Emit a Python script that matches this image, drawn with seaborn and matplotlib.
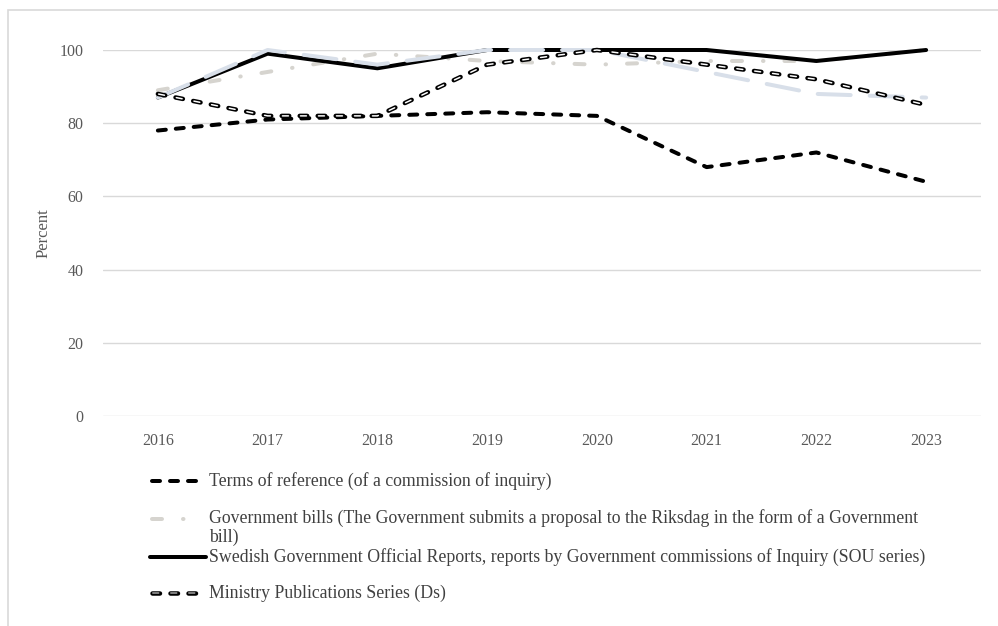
import matplotlib
matplotlib.use("Agg")
import matplotlib.pyplot as plt
from matplotlib.lines import Line2D
from matplotlib.patches import Rectangle
import seaborn as sns
import pandas as pd

years = ["2016", "2017", "2018", "2019", "2020", "2021", "2022", "2023"]
terms_of_reference = [78, 81, 82, 83, 82, 68, 72, 64]
government_bills = [89, 94, 99, 97, 96, 97, 97, 100]
sou_reports = [87, 99, 95, 100, 100, 100, 97, 100]
unlabelled_series = [87, 100, 96, 100, 100, 94, 88, 87]
ds_series = [88, 82, 82, 96, 100, 96, 92, 85]
y_ticks = [0, 20, 40, 60, 80, 100]

labels = [
    "Terms of reference (of a commission of inquiry)",
    "Government bills (The Government submits a proposal to the Riksdag in the form of a Government\nbill)",
    "Swedish Government Official Reports, reports by Government commissions of Inquiry (SOU series)",
    "Ministry Publications Series (Ds)",
]

sns.set_theme(style="white")
plt.rcParams["font.family"] = ["Liberation Serif", "DejaVu Serif"]
plt.rcParams["lines.scale_dashes"] = False

W, H = 998, 626
fig = plt.figure(figsize=(W / 100, H / 100), dpi=100)
PX = 0.72  # points per pixel

# outer frame (cropped at right/bottom)
fig.add_artist(Rectangle((8 / W, -0.1), 1.2, 1 - 10 / H + 0.1, transform=fig.transFigure,
                         fill=False, edgecolor="#d9d9d9", linewidth=1.2))

ax = fig.add_axes([103 / W, 1 - 416 / H, (981 - 103) / W, (416 - 50) / H])

x = list(range(len(years)))
df = pd.DataFrame({"x": x, "terms": terms_of_reference, "bills": government_bills,
                   "sou": sou_reports, "other": unlabelled_series, "ds": ds_series})

LW = 4 * PX
TERMS_LS = (0, (8 * PX, 10 * PX))
BILLS_LS = (0, (10 * PX, 21 * PX, 0.5 * PX, 21 * PX))
styles = {
    "terms": dict(color="black", lw=LW, ls=TERMS_LS),
    "bills": dict(color="#d6d4cf", lw=LW, ls=BILLS_LS),
    "sou": dict(color="black", lw=LW, ls="-"),
    "other": dict(color="#d8dfe9", lw=LW, ls=(0, (33 * PX, 19 * PX))),
}

def draw(col, st, z):
    sns.lineplot(data=df, x="x", y=col, ax=ax, color=st["color"], linewidth=st["lw"],
                 linestyle=st["ls"], zorder=z)
    ln = ax.lines[-1]
    ln.set_dash_capstyle("round")
    ln.set_solid_capstyle("round")
    ln.set_clip_on(False)

draw("terms", styles["terms"], 3)
draw("bills", styles["bills"], 4)
draw("sou", styles["sou"], 5)
draw("other", styles["other"], 6)

# Ds: double line (black outline, white inner)
ds_outer = (0, (7.5 * PX, 10.5 * PX))
ds_inner = (17.25 * PX, (6 * PX, 12 * PX))
sns.lineplot(data=df, x="x", y="ds", ax=ax, color="black", linewidth=4.5 * PX,
             linestyle=ds_outer, zorder=7)
ax.lines[-1].set_dash_capstyle("round"); ax.lines[-1].set_clip_on(False)
sns.lineplot(data=df, x="x", y="ds", ax=ax, color="white", linewidth=1.5 * PX,
             linestyle=ds_inner, zorder=8)
ax.lines[-1].set_dash_capstyle("round"); ax.lines[-1].set_clip_on(False)

ax.set_xlim(-0.5, len(years) - 0.5)
ax.set_ylim(0, 100)
ax.set_xticks(x)
ax.set_xticklabels(years)
ax.set_yticks(y_ticks)
ax.set_yticklabels([str(v) for v in y_ticks])
ax.tick_params(axis="both", length=0, labelsize=11.5, labelcolor="#595959")
ax.tick_params(axis="y", pad=14)
ax.tick_params(axis="x", pad=12)
for s in ax.spines.values():
    s.set_visible(False)
ax.grid(axis="y", color="#d9d9d9", linewidth=1.0)
ax.set_axisbelow(True)
ax.set_xlabel("")
ax.set_ylabel("Percent", fontsize=12, color="#595959")
ax.yaxis.set_label_coords((52 - 103) / (981 - 103), 0.5)

# legend (manual, positioned as in reference)
LEG_FS = 12.8
entries = [
    ("terms", 481),
    ("bills", 519),
    ("sou", 557),
    ("ds", 593),
]
for (kind, ypx), lab in zip(entries, labels):
    yf = 1 - ypx / H
    if kind == "terms":
        fig.add_artist(Line2D([152 / W, 199 / W], [yf, yf], transform=fig.transFigure,
                              color="black", linewidth=LW, linestyle=TERMS_LS,
                              dash_capstyle="round"))
    elif kind == "bills":
        fig.add_artist(Line2D([152 / W, 190 / W], [yf, yf], transform=fig.transFigure,
                              color="#d6d4cf", linewidth=LW, linestyle=BILLS_LS,
                              dash_capstyle="round"))
    elif kind == "sou":
        fig.add_artist(Line2D([150 / W, 206 / W], [yf, yf], transform=fig.transFigure,
                              color="black", linewidth=LW, solid_capstyle="round"))
    else:
        fig.add_artist(Line2D([152 / W, 199 / W], [yf, yf], transform=fig.transFigure,
                              color="black", linewidth=4.5 * PX, linestyle=ds_outer,
                              dash_capstyle="round"))
        fig.add_artist(Line2D([152 / W, 199 / W], [yf, yf], transform=fig.transFigure,
                              color="#a6a6a6", linewidth=1.5 * PX, linestyle=ds_inner,
                              dash_capstyle="round"))
    if "\n" in lab:
        fig.text(209 / W, 1 - (ypx - 10) / H, lab, ha="left", va="top", fontsize=LEG_FS,
                 color="#404040", linespacing=1.12)
    else:
        fig.text(209 / W, yf, lab, ha="left", va="center", fontsize=LEG_FS, color="#404040")

fig.savefig("out.png", dpi=100)
